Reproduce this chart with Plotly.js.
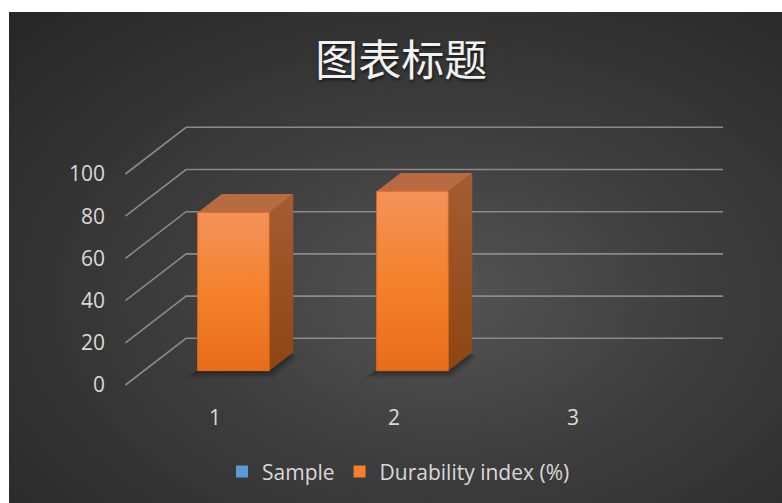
<!DOCTYPE html>
<html>
<head>
<meta charset="utf-8">
<script src="https://cdn.plot.ly/plotly-3.0.1.min.js"></script>
<style>
  body { margin:0; background:#ffffff; }
  #bg { position:absolute; left:9px; top:12px; width:773px; height:491px;
        background: radial-gradient(ellipse farthest-corner at 56% 58%, #545454 0%, #3c3c3c 45%, #262626 100%); }
  #chart { position:absolute; left:0; top:0; width:782px; height:503px; }
</style>
</head>
<body>
<div id="bg"></div>
<div id="chart"></div>
<script>
// ---- data ----
const categories = ['1', '2', '3'];
const sampleValues = [null, null, null];
const durabilityValues = [75, 85, null];
const yTickVals = [0, 20, 40, 60, 80, 100];
const seriesNames = ['Sample', 'Durability index (%)'];

// ---- pseudo-3D geometry (style constants) ----
const DX = 0.339, DY = 22.13;      // depth offset of back wall in axis units
const F0 = 0.306, F1 = 0.701;      // bar front / back depth fraction
const BW = 0.40;                   // bar width in category units

const catIdx = categories.map((c, i) => i);
const traces = [];

// grid (back wall lines + left wall diagonals)
const gx = [], gy = [];
const xStart = -0.5, xEnd = categories.length - 0.5;
yTickVals.forEach(v => {
  gx.push(xStart, xStart + DX, xEnd + DX, null);
  gy.push(v, v + DY, v + DY, null);
});
traces.push({ type:'scatter', mode:'lines', x:gx, y:gy, line:{color:'#8a8a8a', width:1.6},
  hoverinfo:'skip', showlegend:false });

// legend / front-face bar traces
traces.push({ type:'bar', name:seriesNames[0], x:catIdx.map(i => i + F0*DX), y:sampleValues,
  base:F0*DY, width:BW, marker:{color:'#5B9BD5', line:{width:0}}, hoverinfo:'skip' });
traces.push({ type:'bar', name:seriesNames[1], x:catIdx.map(i => i + F0*DX), y:durabilityValues,
  base:F0*DY, width:BW, marker:{color:'#F2802D', line:{width:0}}, hoverinfo:'skip' });

// 3D faces
durabilityValues.forEach((v, i) => {
  if (v === null || v === undefined) return;
  const xl = i - BW/2 + F0*DX, xr = i + BW/2 + F0*DX;
  const y0 = F0*DY, y1 = v + F0*DY;
  const ddx = (F1 - F0)*DX, ddy = (F1 - F0)*DY;
  // soft shadow
  [[0.075, 3.6, 'rgba(0,0,0,0.09)'], [0.05, 2.4, 'rgba(0,0,0,0.12)'], [0.025, 1.2, 'rgba(0,0,0,0.16)']].forEach(s => {
    const px = s[0], py = s[1];
    traces.push({ type:'scatter', mode:'lines', fill:'toself', fillcolor:s[2], line:{width:0},
      x:[xl - px, xr + px*0.3, xr + ddx + px*0.4, xl + ddx, xl - px],
      y:[y0 - py, y0 - py, y0 + ddy - py*0.6, y0 + ddy - py*0.6, y0 - py],
      hoverinfo:'skip', showlegend:false });
  });
  // side face
  traces.push({ type:'scatter', mode:'lines', fill:'toself', line:{width:0},
    x:[xr, xr + ddx, xr + ddx, xr, xr], y:[y0, y0 + ddy, y1 + ddy, y1, y0],
    fillcolor:'#9A5124',
    fillgradient:{type:'vertical', start:y0, stop:y1 + ddy,
      colorscale:[[0,'#8E4513'],[1,'#A45D33']]},
    hoverinfo:'skip', showlegend:false });
  // top face
  traces.push({ type:'scatter', mode:'lines', fill:'toself', line:{width:0},
    x:[xl, xr, xr + ddx, xl + ddx, xl], y:[y1, y1, y1 + ddy, y1 + ddy, y1],
    fillcolor:'#B86A40', hoverinfo:'skip', showlegend:false });
  // front face
  traces.push({ type:'scatter', mode:'lines', fill:'toself', line:{width:0.8, color:'#E2691E'},
    x:[xl, xr, xr, xl, xl], y:[y0, y0, y1, y1, y0],
    fillcolor:'#F2802D',
    fillgradient:{type:'vertical', start:y0, stop:y1,
      colorscale:[[0,'#E86D1A'],[0.5,'#F5812C'],[1,'#F3935A']]},
    hoverinfo:'skip', showlegend:false });
});

const tickFont = { family:'Open Sans, sans-serif', size:21, color:'#d9d9d9' };
const layout = {
  width:782, height:503,
  paper_bgcolor:'rgba(0,0,0,0)', plot_bgcolor:'rgba(0,0,0,0)',
  margin:{ l:106, r:22, t:110, b:105 },
  title:{ text:'图表标题', x:0.513, xref:'container', y:0.879, yref:'container', yanchor:'middle',
    font:{ family:'Noto Sans CJK SC, sans-serif', size:43, color:'#f2f2f2',
           shadow:'1px 2px 3px rgba(0,0,0,0.6)' } },
  barmode:'overlay',
  showlegend:true,
  legend:{ orientation:'h', xref:'container', yref:'container', x:0.2839, xanchor:'left',
    y:0.062, yanchor:'middle',
    font:{ family:'Open Sans, sans-serif', size:21, color:'#d9d9d9' },
    bgcolor:'rgba(0,0,0,0)', traceorder:'normal' },
  xaxis:{ range:[-0.6084, 3.0453], tickvals:catIdx, ticktext:categories, showgrid:false,
    zeroline:false, showline:false, ticks:'', tickfont:tickFont, ticklabelstandoff:5, fixedrange:true },
  yaxis:{ range:[-6.161, 130.33], tickvals:yTickVals, ticktext:yTickVals.map(String), showgrid:false,
    zeroline:false, showline:false, ticks:'', tickfont:tickFont, fixedrange:true },
  hovermode:false
};
Plotly.newPlot('chart', traces, layout, { displayModeBar:false, staticPlot:true });
</script>
</body>
</html>
